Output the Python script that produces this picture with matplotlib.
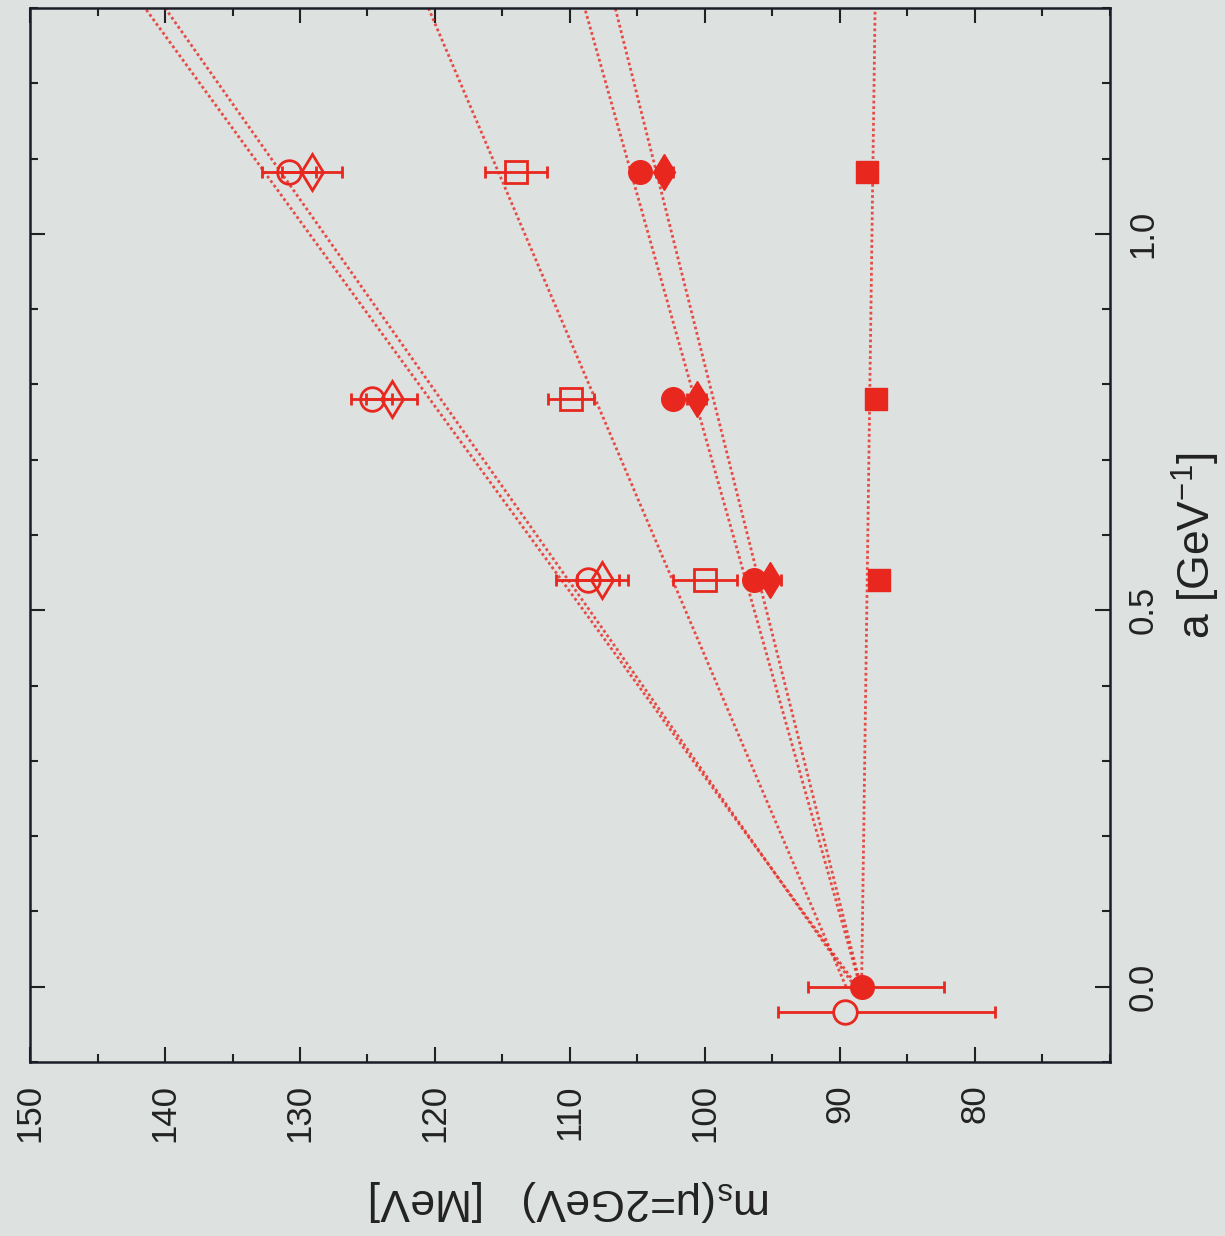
import matplotlib
matplotlib.use("Agg")
import matplotlib.pyplot as plt
from matplotlib.ticker import MultipleLocator, FixedLocator, FormatStrFormatter
import numpy as np

plt.rcParams['font.family'] = ['Liberation Sans', 'DejaVu Sans']
plt.rcParams['mathtext.fontset'] = 'custom'
plt.rcParams['mathtext.rm'] = 'Liberation Sans'

# lattice spacing a [GeV^-1]
a_lat = [0.540, 0.781, 1.082]

# m_s(mu=2GeV) [MeV] at finite lattice spacing
ms_open_circle = [108.7, 124.7, 130.8]
err_open_circle = [2.3, 1.5, 2.0]
ms_open_diamond = [107.6, 123.2, 129.1]
err_open_diamond = [1.9, 1.9, 2.2]
ms_open_square = [100.0, 109.9, 114.0]
err_open_square = [2.4, 1.7, 2.3]
ms_full_circle = [96.4, 102.4, 104.8]
err_full_circle = [0.5, 0.5, 0.5]
ms_full_diamond = [95.2, 100.6, 103.0]
err_full_diamond = [0.8, 0.7, 0.6]
ms_full_square = [87.1, 87.3, 88.0]
err_full_square = [0.6, 0.5, 0.5]

# continuum values (a -> 0)
a_cont = [0.0, -0.033]
ms_cont = [88.4, 89.6]
err_cont_low = [6.1, 11.1]
err_cont_high = [4.0, 5.0]

# linear extrapolation lines: m_s = intercept + slope * a
fit_intercept = [88.7, 88.9, 89.55, 88.5, 88.45, 88.4]
fit_slope = [40.6, 39.3, 23.8, 15.7, 14.0, -0.77]

ms_ticklabels = [150, 140, 130, 120, 110, 100, 90, 80]

red = '#e8271f'
bg = '#dde1df'

fig = plt.figure(figsize=(12.25, 12.36), dpi=100, facecolor=bg)
ax = fig.add_axes([0.0245, 0.1408, 0.8816, 0.8527], facecolor=bg)

# the figure is shown rotated: m_s runs horizontally (decreasing), a vertically
a_line = np.array([0.0, 1.3])
for b, k in zip(fit_intercept, fit_slope):
    ax.plot(b + k * a_line, a_line, color=red, lw=2.0, ls=(0, (1, 1)), alpha=0.8)

ebkw = dict(color=red, elinewidth=2.0, capsize=4.5, capthick=2.0, linestyle='none')
ax.errorbar(ms_open_circle, a_lat, xerr=err_open_circle, marker='o', ms=17,
            mfc='none', mec=red, mew=2.0, **ebkw)
ax.errorbar(ms_open_diamond, a_lat, xerr=err_open_diamond, marker='d', ms=18,
            mfc='none', mec=red, mew=2.0, **ebkw)
ax.errorbar(ms_open_square, a_lat, xerr=err_open_square, marker='s', ms=16,
            mfc='none', mec=red, mew=2.0, **ebkw)
ax.errorbar(ms_full_circle, a_lat, xerr=err_full_circle, marker='o', ms=17,
            mfc=red, mec=red, **ebkw)
ax.errorbar(ms_full_diamond, a_lat, xerr=err_full_diamond, marker='d', ms=18,
            mfc=red, mec=red, **ebkw)
ax.errorbar(ms_full_square, a_lat, xerr=err_full_square, marker='s', ms=16,
            mfc=red, mec=red, **ebkw)

ax.errorbar(ms_cont[0], a_cont[0], xerr=[[err_cont_low[0]], [err_cont_high[0]]],
            marker='o', ms=17, mfc=red, mec=red, **ebkw)
ax.errorbar(ms_cont[1], a_cont[1], xerr=[[err_cont_low[1]], [err_cont_high[1]]],
            marker='o', ms=17, mfc=bg, mec=red, mew=2.0, **ebkw)

ax.set_xlim(150, 70)
ax.set_ylim(-0.1, 1.3)
ax.xaxis.set_major_locator(FixedLocator(ms_ticklabels))
ax.xaxis.set_minor_locator(MultipleLocator(5))
ax.yaxis.set_major_locator(MultipleLocator(0.5))
ax.yaxis.set_minor_locator(MultipleLocator(0.1))
ax.yaxis.set_major_formatter(FormatStrFormatter('%.1f'))
ax.xaxis.set_major_formatter(FormatStrFormatter('%d'))

ax.tick_params(which='both', direction='in', top=True, bottom=True, left=True, right=True,
               labelleft=False, labelright=True, color='#222222', width=1.5)
ax.tick_params(which='major', length=11)
ax.tick_params(which='minor', length=6)
ax.tick_params(axis='x', labelsize=25, labelrotation=90, pad=16, labelcolor='#222222')
ax.tick_params(axis='y', labelsize=25, labelrotation=90, pad=12, labelcolor='#222222')
for lab in ax.get_yticklabels():
    lab.set_va('center')

for sp in ax.spines.values():
    sp.set_linewidth(1.8)
    sp.set_color('#1c1c28')

ax.set_xlabel(r'm$_\mathregular{s}$(μ=2GeV)   [MeV]', fontsize=32, rotation=180, color='#222222')
ax.xaxis.label.set_va('center')
ax.xaxis.set_label_coords(0.5, -0.131)

ax.yaxis.set_label_position('right')
ax.set_ylabel(r'a [GeV$^{-1}$]', fontsize=32, rotation=90, color='#222222')
ax.yaxis.label.set_va('center')
ax.yaxis.label.set_ha('center')
ax.yaxis.set_label_coords(1.08, 0.49)

fig.savefig('out.png', dpi=100, facecolor=bg)
